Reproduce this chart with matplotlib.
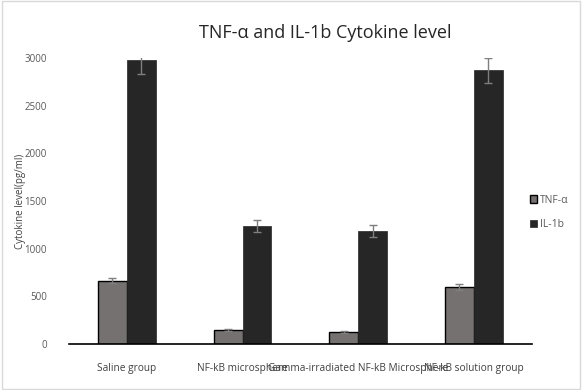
import numpy as np
import matplotlib
matplotlib.use("Agg")
from matplotlib import pyplot as plt
from matplotlib.patches import Rectangle

groups = ["Saline group", "NF-kB microsphere", "Gamma-irradiated NF-kB Microsphere", "NF-kB solution group"]
tnf = [665, 145, 125, 595]
tnf_err = [25, 10, 10, 30]
il1b = [2980, 1235, 1185, 2870]
il1b_err = [150, 65, 60, 130]

plt.rcParams['font.family'] = ['Open Sans', 'DejaVu Sans']

fig = plt.figure(figsize=(5.82, 3.9), dpi=100)
ax = fig.add_axes([0.1186, 0.118, 0.795, 0.733])

x = np.arange(len(groups))
w = 0.25
err_kw = dict(ecolor='#7f7f7f', elinewidth=1, capsize=3, capthick=1)
ax.bar(x - w / 2, tnf, w, yerr=tnf_err, color='#767171', edgecolor='black',
       linewidth=1, label='TNF-α', error_kw=err_kw)
ax.bar(x + w / 2, il1b, w, yerr=il1b_err, color='#262626', edgecolor='#262626',
       linewidth=0.5, label='IL-1b', error_kw=err_kw)

ax.set_xlim(-0.5, 3.5)
ax.set_ylim(0, 3000)
ax.set_yticks(range(0, 3001, 500))
ax.set_xticks(x)
ax.set_xticklabels(groups, fontsize=7.3, color='#404040')
ax.tick_params(axis='x', length=0, pad=14)
ax.tick_params(axis='y', length=0, labelsize=7, labelcolor='#595959', pad=16)
for s in ['top', 'right', 'left']:
    ax.spines[s].set_visible(False)
ax.spines['bottom'].set_linewidth(1.2)

ax.set_ylabel('Cytokine level(pg/ml)', fontsize=7, color='#404040')
ax.yaxis.set_label_coords(-0.093, 0.5)
fig.text(0.558, 0.915, 'TNF-α and IL-1b Cytokine level', ha='center', va='center',
         fontsize=13, color='#262626')

ax.legend(loc='center left', bbox_to_anchor=(0.975, 0.46), frameon=False,
          fontsize=7.5, handlelength=0.7, handleheight=0.7, handletextpad=0.3,
          labelspacing=1.3, labelcolor='#595959')

fig.patches.append(Rectangle((0.003, 0.003), 0.994, 0.994, transform=fig.transFigure,
                             fill=False, edgecolor='#d9d9d9', linewidth=1))

fig.savefig('out.png', dpi=100)
